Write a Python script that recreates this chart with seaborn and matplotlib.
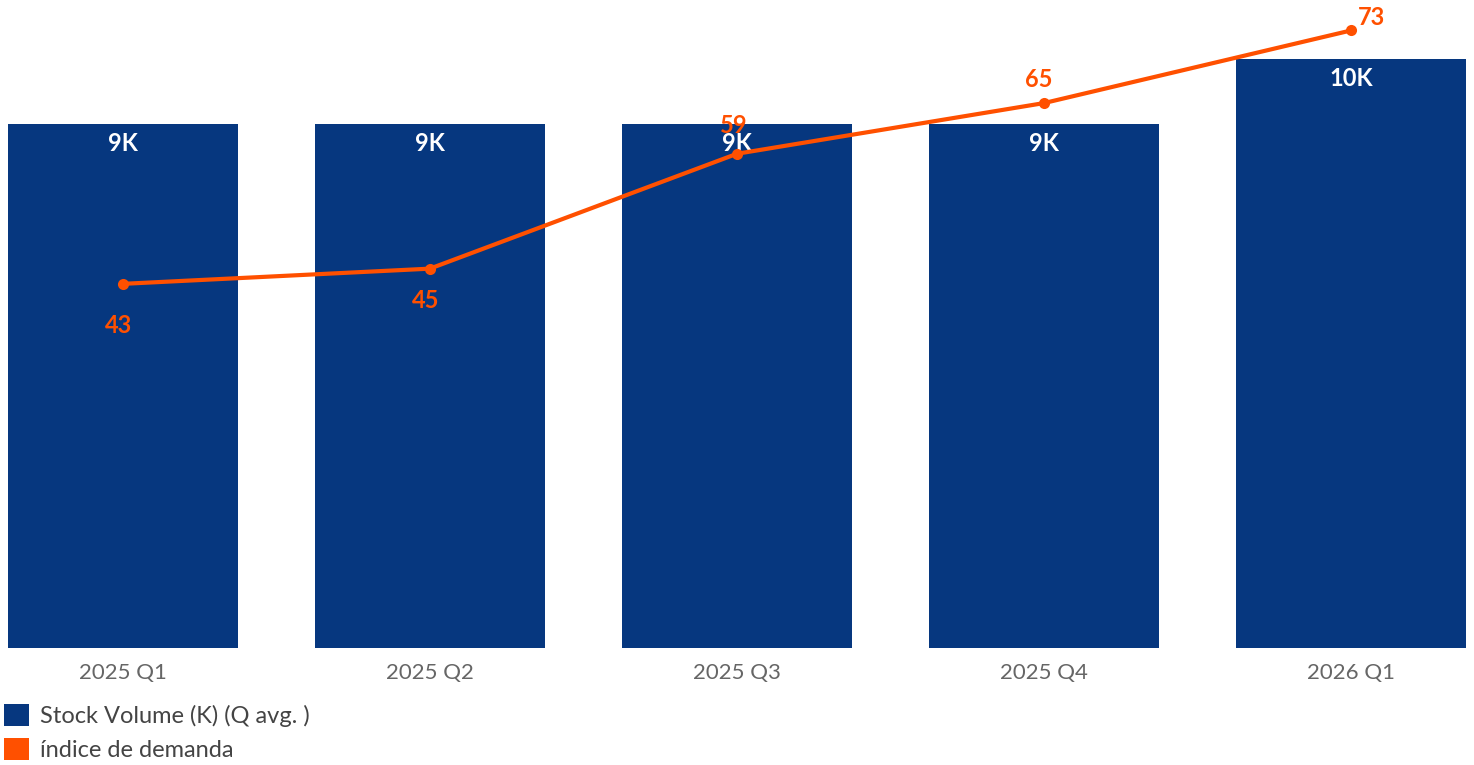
import matplotlib
matplotlib.use("Agg")
import matplotlib.pyplot as plt
import seaborn as sns
import pandas as pd
from matplotlib.patches import Patch

quarters = ["2025 Q1", "2025 Q2", "2025 Q3", "2025 Q4", "2026 Q1"]
stock_volume_k = [8.9, 8.9, 8.9, 8.9, 10.0]
stock_labels = ["9K", "9K", "9K", "9K", "10K"]
demand_index = [43.1, 44.9, 58.5, 64.5, 73.1]
demand_labels = ["43", "45", "59", "65", "73"]

BLUE = "#06377f"
ORANGE = "#ff5000"
GRAY = "#666666"

sns.set_theme(style="white")
plt.rcParams["font.family"] = ["Lato", "DejaVu Sans"]

df = pd.DataFrame({"quarter": quarters, "stock": stock_volume_k, "demand": demand_index})

fig = plt.figure(figsize=(14.74, 7.65), dpi=100)
ax = fig.add_axes([0.0, 0.153, 1.0, 0.847])
sns.barplot(data=df, x="quarter", y="stock", color=BLUE, saturation=1, width=0.75,
            edgecolor="none", linewidth=0, ax=ax)
ax.set_xlim(-0.4, 4.4)
ax.set_ylim(0, 11)
ax.set_xlabel("")
ax.set_ylabel("")
ax.set_yticks([])
ax.tick_params(axis="x", length=0, labelsize=16, labelcolor=GRAY, pad=11)
for s in ax.spines.values():
    s.set_visible(False)

for i, (v, lab) in enumerate(zip(stock_volume_k, stock_labels)):
    ax.annotate(lab, (i, v), xytext=(0, -14), textcoords="offset points",
                ha="center", va="center", color="white", fontsize=17, fontweight="bold")

ax2 = ax.twinx()
sns.lineplot(data=df, x="quarter", y="demand", color=ORANGE, linewidth=3, sort=False,
             marker="o", markersize=8, markeredgewidth=0, ax=ax2)
ax2.set_ylim(0, 76.7)
ax2.set_yticks([])
ax2.set_ylabel("")
ax2.set_xlabel("")
for s in ax2.spines.values():
    s.set_visible(False)

offsets = [(-3, -30), (-3, -23), (-2, 20), (-4, 17), (15, 9)]
for i, (v, lab) in enumerate(zip(demand_index, demand_labels)):
    ax2.annotate(lab, (i, v), xytext=offsets[i], textcoords="offset points",
                 ha="center", va="center", color=ORANGE, fontsize=17, fontweight="bold")

handles = [Patch(facecolor=BLUE, edgecolor="none", label="Stock Volume (K) (Q avg. )"),
           Patch(facecolor=ORANGE, edgecolor="none", label="índice de demanda")]
fig.legend(handles=handles, loc="lower left", bbox_to_anchor=(-0.002, -0.004), frameon=False,
           fontsize=17, handlelength=1.05, handleheight=1.05, handletextpad=0.45,
           labelspacing=0.45, labelcolor="#444444", borderpad=0.2, borderaxespad=0.1)

fig.savefig("out.png", dpi=100)
